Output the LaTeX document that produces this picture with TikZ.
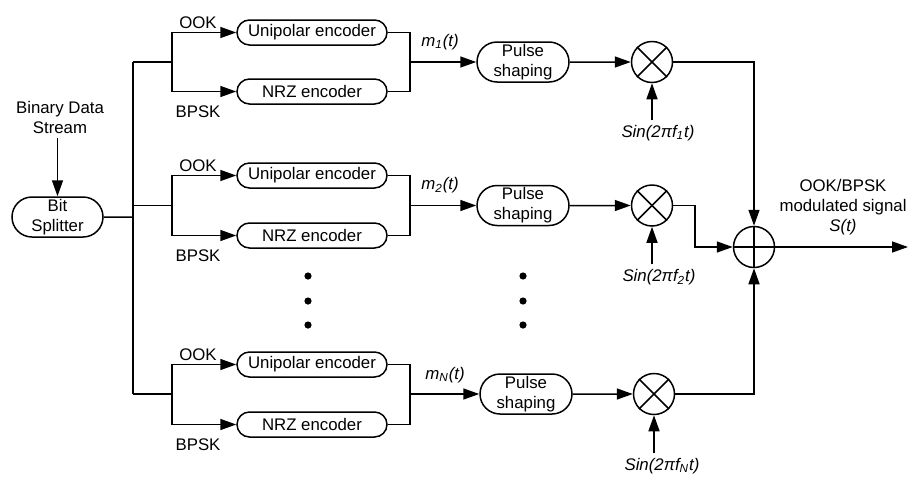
\documentclass[tikz,border=0pt]{standalone}
\usepackage{fontspec}
\setmainfont{Liberation Sans}
\usetikzlibrary{shapes.misc,arrows.meta}
\begin{document}
\begin{tikzpicture}[x=0.5pt,y=-0.5pt, line width=0.75pt,
  font=\fontsize{8.4}{10}\selectfont,
  enc/.style={draw, rounded rectangle, minimum width=75pt, minimum height=12.5pt, inner sep=0pt},
  pulse/.style={draw, rounded rectangle, minimum width=46pt, minimum height=20pt, inner sep=0pt, align=center},
  mult/.style={draw, circle, minimum size=20.5pt, inner sep=0pt},
  arr/.style={-{Triangle[length=8pt,width=5.5pt]}},
  lbl/.style={inner sep=1pt},
  sinl/.style={inner sep=2pt, font=\fontsize{8.4}{10}\selectfont\itshape},
  dot/.style={fill, circle, minimum size=3.6pt, inner sep=0pt}]
\useasboundingbox (0,0) rectangle (909,477);

% input
\node[align=center, inner sep=2pt] (bds) at (60,117) {Binary Data\\Stream};
\node[draw, rounded rectangle, minimum width=45.5pt, minimum height=20pt, inner sep=0pt, align=center] (bs) at (57.5,217) {Bit\\Splitter};
\draw[arr] (bds.south -| bs.north) -- (bs.north);
\coordinate (tr) at (133,217);
\draw (bs) -- (tr);

% branch group 1
\node[enc] (u1) at (312,32.5) {Unipolar encoder};
\node[enc] (n1) at (312,91.5) {NRZ encoder};
\coordinate (b1) at (172,62);
\coordinate (j1) at (410,62);
% group 2
\node[enc] (u2) at (312,175.5) {Unipolar encoder};
\node[enc] (n2) at (312,235.5) {NRZ encoder};
\coordinate (b2) at (172,205.5);
\coordinate (j2) at (410,205.5);
% group N
\node[enc] (uN) at (312,364.5) {Unipolar encoder};
\node[enc] (nN) at (312,424.5) {NRZ encoder};
\coordinate (bN) at (172,394);
\coordinate (jN) at (410,394);

\draw (b1 -| tr) -- (bN -| tr);
\foreach \g in {1,2,N}{
  \draw (b\g -| tr) -- (b\g);
  \draw[arr] (b\g) |- (u\g);
  \draw[arr] (b\g) |- (n\g);
  \draw (u\g) -| (j\g);
  \draw (n\g) -| (j\g);
  \node[lbl] at ([yshift=5pt]u\g.west -| 198,0) {OOK};
  \node[lbl] at ([yshift=-10pt]n\g.west -| 198,0) {BPSK};
}

% pulse shaping and multipliers
\node[pulse] (p1) at (523,62) {Pulse\\shaping};
\node[pulse] (p2) at (523,205.5) {Pulse\\shaping};
\node[pulse] (pN) at (526,394) {Pulse\\shaping};
\node[mult] (x1) at (652,62) {};
\node[mult] (x2) at (652,205.5) {};
\node[mult] (xN) at (654,394) {};
\foreach \g in {1,2,N}{
  \draw[arr] (j\g) -- (p\g);
  \draw[arr] (p\g) -- (x\g);
  \draw (x\g.north west) -- (x\g.south east);
  \draw (x\g.north east) -- (x\g.south west);
}
\node[lbl] at (440,42) {\itshape m\textsubscript{1}(t)};
\node[lbl] at (440,185) {\itshape m\textsubscript{2}(t)};
\node[lbl] at (445,375) {\itshape m\textsubscript{N}(t)};

\node[sinl] (s1) at (658,133) {Sin(2πf\textsubscript{1}t)};
\node[sinl] (s2) at (659,277) {Sin(2πf\textsubscript{2}t)};
\node[sinl] (sN) at (662,466) {Sin(2πf\textsubscript{N}t)};
\draw[arr] (s1.north -| x1.south) -- (x1.south);
\draw[arr] (s2.north -| x2.south) -- (x2.south);
\draw[arr] (sN.north -| xN.south) -- (xN.south);

% adder
\node[mult] (add) at (754,247) {};
\draw (add.north) -- (add.south);
\draw (add.west) -- (add.east);
\draw[arr] (x1) -| (add);
\coordinate (k2) at (695,205.5);
\draw[arr] (x2) -- (k2) |- (add);
\draw[arr] (xN) -| (add);
\coordinate (out) at (908,247);
\draw[arr] (add) -- (out);
\node[align=center, inner sep=0pt] (ol) at (843,207) {OOK/BPSK\\modulated signal\\\itshape S(t)};

% dots
\node[dot] (d1) at (308,276) {};
\node[dot] (d2) at (308,301) {};
\node[dot] (d3) at (308,325) {};
\node[dot] (e1) at (523,276) {};
\node[dot] (e2) at (523,301) {};
\node[dot] (e3) at (523,325) {};
\end{tikzpicture}
\end{document}
